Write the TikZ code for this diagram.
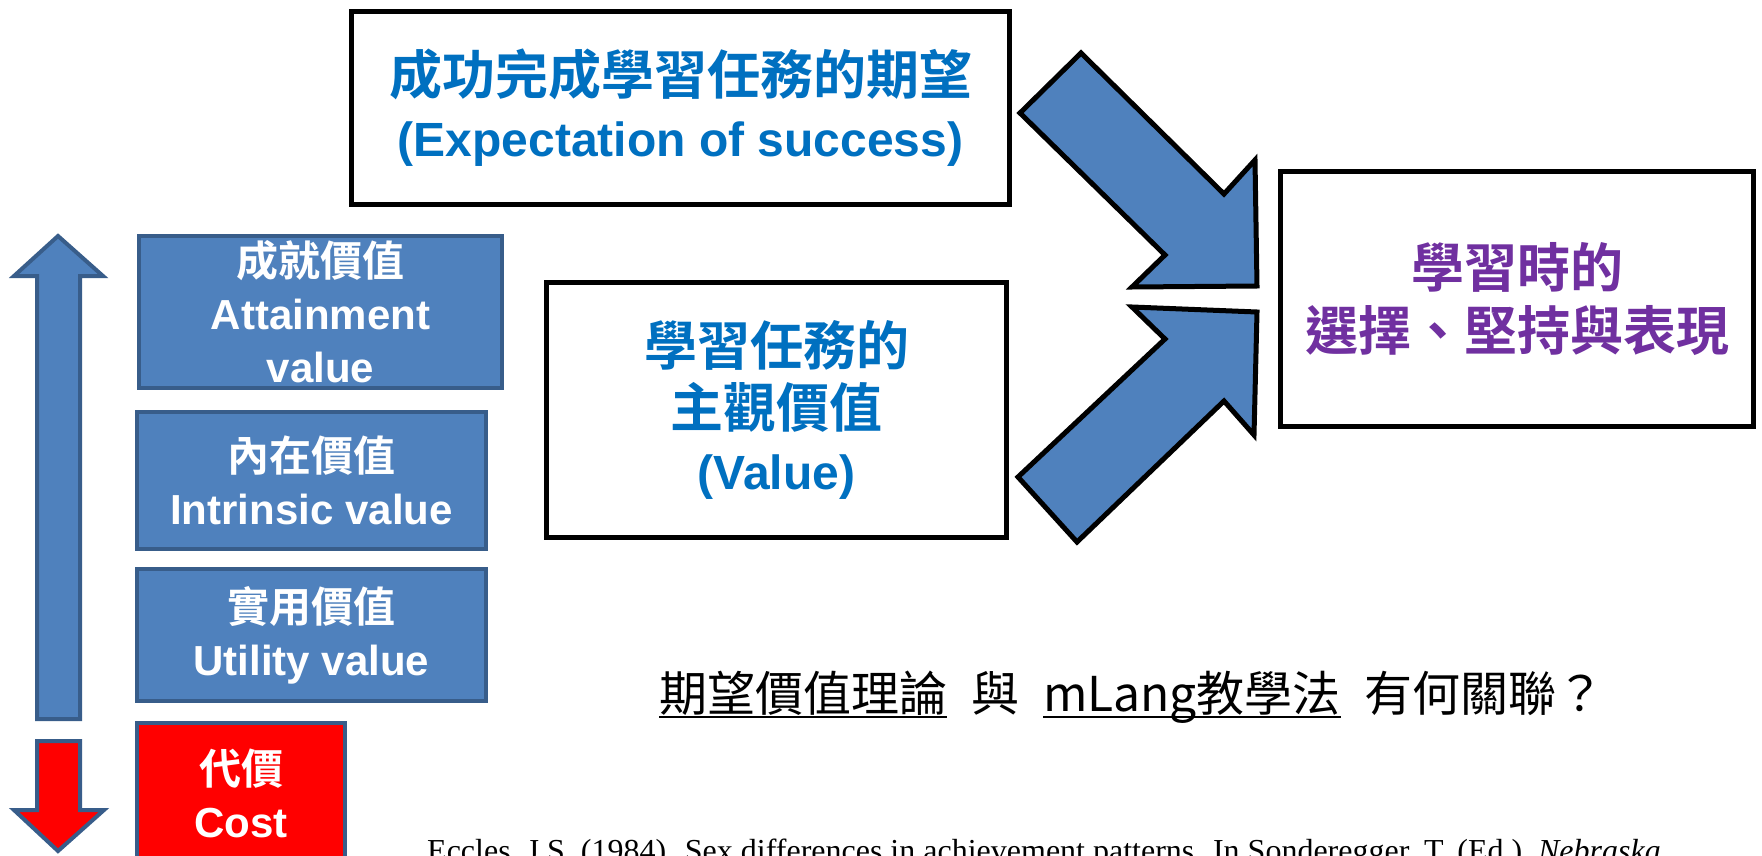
\documentclass[tikz,border=0pt]{standalone}
\usepackage{fontspec}
\setmainfont{Liberation Sans}
\newfontfamily\cjk{Noto Sans CJK TC}[BoldFont={Noto Sans CJK TC Bold}]
\newfontfamily\citefont{Liberation Serif}
\definecolor{expblue}{HTML}{0070C0}
\definecolor{outpurple}{HTML}{7030A0}
\definecolor{valfill}{HTML}{4F81BD}
\definecolor{valedge}{HTML}{385D8A}
\newcommand\zh[1]{{\cjk #1}}
\newcommand\undl[1]{\setbox0\hbox{#1}\rlap{\rule[-0.155em]{\wd0}{0.06em}}\box0}

\begin{document}
\begin{tikzpicture}[x=1pt,y=-1pt,
  wbox/.style={draw=black,line width=5pt,fill=white,align=center,inner sep=0pt},
  vbox/.style={draw=valedge,line width=4pt,fill=valfill,text=white,align=center,inner sep=0pt,
    font=\fontsize{42}{53}\selectfont\bfseries},
  bigarrow/.style={draw=black,line width=5pt,fill=valfill},
  sidearrow/.style={draw=valedge,line width=4pt}]
\useasboundingbox (0,0) rectangle (1762,856);

\node[wbox,minimum width=658pt,minimum height=193pt,text=expblue,
  font=\fontsize{48}{62}\selectfont\bfseries] (expect) at (680.5,108)
  {\zh{\fontsize{53}{62}\selectfont 成功完成學習任務的期望}\\(Expectation of success)};
\node[wbox,minimum width=460pt,minimum height=255pt,text=expblue,
  font=\fontsize{48}{62}\selectfont\bfseries] (value) at (776.5,410)
  {\zh{\fontsize{53}{62}\selectfont 學習任務的}\\\zh{\fontsize{53}{62}\selectfont 主觀價值}\\(Value)};
\node[wbox,minimum width=473pt,minimum height=255pt,text=outpurple,
  font=\cjk\fontsize{53}{63}\selectfont\bfseries] (choice) at (1517,299)
  {學習時的\\選擇、堅持與表現};

\node[vbox,minimum width=363pt,minimum height=152pt] (attain) at (320.5,312)
  {\zh{成就價值}\\Attainment\\value};
\node[vbox,minimum width=349pt,minimum height=137pt] (intrin) at (311.5,480.5)
  {\zh{內在價值}\\Intrinsic value};
\node[vbox,minimum width=349pt,minimum height=132pt] (util) at (311.5,635)
  {\zh{實用價值}\\Utility value};
\node[vbox,fill=red,minimum width=208pt,minimum height=140pt] (cost) at (241,793)
  {\zh{代價}\\Cost};

\draw[sidearrow,fill=valfill] (58,236) -- (14,276) -- (37,276) -- (37,719) -- (80,719) -- (80,276) -- (103,276) -- cycle;
\draw[sidearrow,fill=red] (37,741) -- (80,741) -- (80,810) -- (104,810) -- (58,851) -- (14,810) -- (37,810) -- cycle;

\draw[bigarrow] (1081,53) -- (1020,113) -- (1165,255) -- (1132,287) -- (1257,286) -- (1255,160) -- (1224,194) -- cycle;
\draw[bigarrow] (1132,307) -- (1165,339) -- (1018,477) -- (1077,542) -- (1224,401) -- (1254,435) -- (1257,312) -- cycle;

\node[anchor=base,font=\cjk\fontsize{48}{58}\selectfont] (ask) at (1132,711)
  {\undl{期望價值理論}\hspace{0.5em}與\hspace{0.5em}\undl{mLang教學法}\hspace{0.5em}有何關聯？};
\node[anchor=base west,inner sep=0pt,font=\citefont\fontsize{32}{38}\selectfont] (cite) at (427,861)
  {Eccles, J.S. (1984). Sex differences in achievement patterns. In Sonderegger, T. (Ed.), \textit{Nebraska}};
\end{tikzpicture}
\end{document}
